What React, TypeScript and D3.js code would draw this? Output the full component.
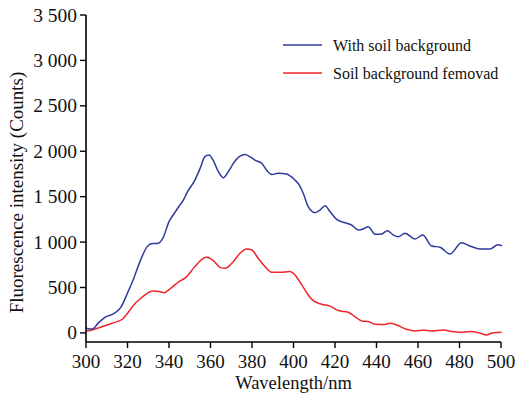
import React from "react";
import * as d3 from "d3";

const blueNm = [300, 303, 306, 309.5, 314, 317, 320, 323, 326, 329.5, 332, 334.5, 337, 340, 342.5, 345, 347, 348.5, 352.5, 355, 357.3, 359.3, 361.4, 363.8, 366.2, 368.6, 371, 374.2, 376.6, 379, 381.4, 384.7, 387, 389.5, 392.7, 396.7, 398.5, 400.7, 402.8, 404.7, 407.1, 410.4, 412.8, 415.2, 417.6, 420.8, 424.8, 428, 431.2, 433.6, 436, 439.3, 442.5, 445.2, 448.1, 450.5, 453.7, 458.6, 462.3, 466.6, 470.6, 475.4, 481, 485.1, 489.9, 494.7, 498.5, 500.5];
const blueVal = [52, 42, 110, 176, 220, 290, 440, 600, 785, 950, 985, 985, 1040, 1225, 1315, 1400, 1465, 1537, 1683, 1811, 1940, 1958, 1895, 1775, 1708, 1775, 1867, 1947, 1965, 1940, 1903, 1867, 1793, 1745, 1757, 1749, 1725, 1683, 1628, 1537, 1390, 1324, 1353, 1400, 1335, 1250, 1213, 1188, 1133, 1144, 1170, 1086, 1089, 1125, 1078, 1059, 1097, 1034, 1078, 957, 943, 869, 993, 957, 924, 924, 970, 960];

const redNm = [300, 304, 308.7, 313.5, 317.5, 320, 323, 326.4, 329.5, 332, 335.2, 337.6, 340.8, 344.8, 348, 352.5, 356.5, 358.2, 361.4, 364.6, 367, 371, 374.2, 377.4, 379.9, 383, 386.3, 389.5, 393.5, 398.3, 400.7, 404, 407.1, 409.5, 413.6, 417.6, 421.6, 426.4, 429.6, 432.9, 436, 439.3, 443.3, 446.5, 449.7, 454.5, 458.6, 462.6, 466.6, 472.2, 476.2, 480.2, 485.1, 489.9, 493.1, 496.3, 500.3];
const redVal = [18, 40, 77, 113, 150, 216, 308, 381, 436, 462, 455, 443, 491, 565, 608, 730, 821, 832, 795, 722, 711, 784, 876, 924, 913, 821, 730, 667, 667, 675, 638, 528, 418, 355, 315, 295, 246, 227, 180, 132, 125, 95, 92, 106, 88, 40, 22, 30, 22, 33, 15, 7, 15, -3, -22, 3, 7];

const xTicks = [300, 320, 340, 360, 380, 400, 420, 440, 460, 480, 500];
const yTicks = [0, 500, 1000, 1500, 2000, 2500, 3000, 3500];
const yTickLabels = ["0", "500", "1 000", "1 500", "2 000", "2 500", "3 000", "3 500"];
const seriesNames = ["With soil background", "Soil background femovad"];
const seriesColors = ["#2e3b9c", "#f0262a"];

const SERIF = '"Liberation Serif", "Times New Roman", Times, "DejaVu Serif", serif';

export default function App() {
  const W = 518, H = 393;
  const x = d3.scaleLinear().domain([300, 500]).range([86, 501]);
  const y = d3.scaleLinear().domain([-100, 3500]).range([342, 15]);
  const line = d3
    .line<[number, number]>()
    .x((d) => x(d[0]))
    .y((d) => y(d[1]))
    .curve(d3.curveMonotoneX);
  const blue = blueNm.map((n, i) => [n, blueVal[i]] as [number, number]);
  const red = redNm.map((n, i) => [n, redVal[i]] as [number, number]);
  const ts = { fontFamily: SERIF };
  return (
    <svg
      width={W}
      height={H}
      style={{ position: "absolute", left: 0, top: 0, background: "#fff", fontFamily: SERIF }}
    >
      <path d={line(red) || ""} fill="none" stroke={seriesColors[1]} strokeWidth={1.5} />
      <path d={line(blue) || ""} fill="none" stroke={seriesColors[0]} strokeWidth={1.5} />
      <line x1={x(300)} x2={x(300)} y1={y(3500)} y2={y(-100)} stroke="#000" strokeWidth={1.6} />
      <line x1={x(300)} x2={x(500)} y1={y(-100)} y2={y(-100)} stroke="#000" strokeWidth={1.6} />
      {yTicks.map((t, i) => (
        <g key={t}>
          <line x1={x(300) - 6} x2={x(300)} y1={y(t)} y2={y(t)} stroke="#000" strokeWidth={1.4} />
          <text x={x(300) - 9} y={y(t) + 6.5} textAnchor="end" fontSize={19.5} fill="#111" style={ts}>
            {yTickLabels[i]}
          </text>
        </g>
      ))}
      {xTicks.map((t) => (
        <g key={t}>
          <line x1={x(t)} x2={x(t)} y1={y(-100)} y2={y(-100) + 6} stroke="#000" strokeWidth={1.4} />
          <text x={x(t)} y={367.5} textAnchor="middle" fontSize={19} fill="#111" style={ts}>
            {t}
          </text>
        </g>
      ))}
      <text x={(x(300) + x(500)) / 2} y={388.5} textAnchor="middle" fontSize={18.5} fill="#111" style={ts}>
        Wavelength/nm
      </text>
      <text
        transform={`translate(23, ${(y(3500) + y(-100)) / 2 + 14}) rotate(-90)`}
        textAnchor="middle"
        fontSize={19}
        fill="#111"
        style={ts}
      >
        Fluorescence intensity (Counts)
      </text>
      {seriesNames.map((n, i) => (
        <g key={n} transform={`translate(283, ${45 + i * 28})`}>
          <line x1={0} x2={39} y1={0} y2={0} stroke={seriesColors[i]} strokeWidth={1.5} />
          <text x={50} y={5.5} fontSize={16} fill="#111" style={ts}>
            {n}
          </text>
        </g>
      ))}
    </svg>
  );
}
